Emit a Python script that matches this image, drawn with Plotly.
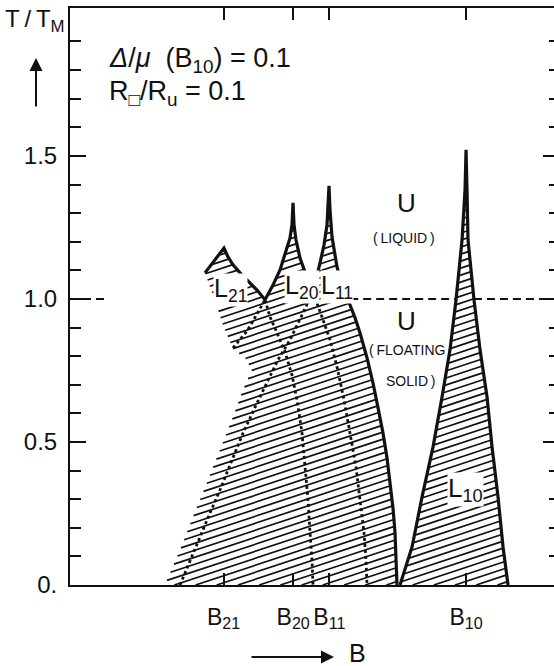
import numpy as np
import plotly.graph_objects as go

# ---------------- data ----------------
# field B (arbitrary units), reduced temperature T/T_M
L21_B = [27.95, 29.81, 31.88, 32.71, 33.75, 35.20, 36.65, 38.72, 40.37]
L21_T = [1.091, 1.133, 1.178, 1.147, 1.119, 1.091, 1.066, 1.031, 0.997]

L20_B = [40.37, 42.03, 43.48, 44.72, 45.55, 45.96, 46.17, 46.38, 46.79, 47.62, 48.86, 50.31]
L20_T = [0.997, 1.049, 1.101, 1.164, 1.213, 1.259, 1.336, 1.259, 1.206, 1.143, 1.084, 1.024]

L11_B = [50.31, 51.14, 51.76, 52.59, 53.21, 53.62, 53.83, 54.24, 55.28, 56.52, 57.56, 59.01,
         60.04, 61.49, 62.73, 63.77, 64.80, 65.63, 66.25, 66.87, 67.29, 67.49, 67.70]
L11_T = [1.024, 1.077, 1.126, 1.189, 1.259, 1.395, 1.311, 1.217, 1.112, 1.031, 0.997, 0.934,
         0.881, 0.794, 0.706, 0.619, 0.531, 0.444, 0.357, 0.269, 0.182, 0.094, 0.0]

L10_left_B = [68.32, 70.81, 72.88, 75.16, 77.02, 78.67, 79.92, 81.16, 81.78, 81.99]
L10_left_T = [0.0, 0.133, 0.308, 0.483, 0.657, 0.822, 0.997, 1.206, 1.381, 1.521]
L10_right_B = [81.99, 82.19, 82.40, 83.64, 84.89, 86.34, 87.37, 88.61, 89.65, 90.68]
L10_right_T = [1.521, 1.381, 1.206, 0.997, 0.822, 0.657, 0.483, 0.308, 0.133, 0.0]

# dotted phase boundaries
A_B = [22.77, 24.84, 26.92, 28.99, 31.06, 33.13, 35.82, 38.72, 40.99, 43.06, 45.55, 48.24, 50.31]
A_T = [0.0, 0.087, 0.168, 0.252, 0.332, 0.420, 0.531, 0.636, 0.717, 0.787, 0.857, 0.951, 1.024]
C_B = [40.37, 41.41, 42.86, 44.51, 45.96, 47.00, 48.03, 48.65, 49.28, 49.69, 50.10, 50.31]
C_T = [0.997, 0.937, 0.881, 0.815, 0.734, 0.647, 0.531, 0.413, 0.297, 0.182, 0.087, 0.0]
D_B = [50.31, 51.35, 52.17, 53.83, 55.28, 56.73, 57.97, 59.21, 60.04, 60.87, 61.28, 61.49]
D_T = [1.024, 0.979, 0.937, 0.857, 0.762, 0.647, 0.531, 0.413, 0.297, 0.182, 0.087, 0.0]
L21low_B = [33.75, 35.20, 36.65, 37.89, 39.13, 40.37]
L21low_T = [0.829, 0.857, 0.888, 0.923, 0.962, 0.997]

# left (unlined) edge of the hatched lattice region
edge_B = [19.67, 22.77, 25.47, 28.36, 31.06, 33.75, 35.82, 37.68, 36.23, 33.75, 31.68, 29.81, 27.95]
edge_T = [0.0, 0.122, 0.238, 0.357, 0.472, 0.587, 0.682, 0.752, 0.794, 0.825, 0.909, 1.003, 1.091]

# melting temperature line
melt_T = 1.0
melt_left_B = [0.0, 7.2]
melt_right_start_B = 58.0

# axes
B_ticks = [31.8, 46.2, 53.7, 82.0]
B_labels = ["B<sub>21</sub>", "B<sub>20</sub>", "B<sub>11</sub>", "B<sub>10</sub>"]
T_ticks = [0.0, 0.5, 1.0, 1.5]
T_labels = ["0.", "0.5", "1.0", "1.5"]
T_minor = [0.1, 0.2, 0.3, 0.4, 0.6, 0.7, 0.8, 0.9, 1.1, 1.2, 1.3, 1.4, 1.6, 1.7, 1.8, 1.9]

# ---------------- layout constants ----------------
W, H = 554, 666
ML, MR, MT, MB = 70, 0, 8, 81
X_RANGE = [0, 100.2]
Y_RANGE = [0, 2.017]
FONT = "Liberation Sans, Arial, sans-serif"
INK = "#111111"
TS = "\u2009"  # thin space


def hatch(polyB, polyT, slope=0.33, gap=7.0):
    """Parallel hatch lines clipped to a polygon (computed in screen pixels)."""
    sx = (W - ML - MR) / (X_RANGE[1] - X_RANGE[0])
    sy = (H - MT - MB) / (Y_RANGE[1] - Y_RANGE[0])
    v = np.asarray(polyB, float) * sx
    u = np.asarray(polyT, float) * sy
    v2, u2 = np.roll(v, -1), np.roll(u, -1)
    cv = u - slope * v
    xs, ys = [], []
    for c in np.arange(cv.min() + gap * 0.5, cv.max(), gap):
        f1 = u - slope * v - c
        f2 = u2 - slope * v2 - c
        cr = (f1 > 0) != (f2 > 0)
        if not cr.any():
            continue
        t = f1[cr] / (f1[cr] - f2[cr])
        vi = np.sort(v[cr] + t * (v2[cr] - v[cr]))
        for a, b in zip(vi[0::2], vi[1::2]):
            if b - a < 2:
                continue
            xs += [a / sx, b / sx, None]
            ys += [(slope * a + c) / sy, (slope * b + c) / sy, None]
    return xs, ys


fig = go.Figure()

# hatched regions
lattice_B = edge_B + L21_B[1:] + L20_B[1:] + L11_B[1:]
lattice_T = edge_T + L21_T[1:] + L20_T[1:] + L11_T[1:]
hx, hy = hatch(lattice_B, lattice_T)
hx2, hy2 = hatch(L10_left_B + L10_right_B[1:], L10_left_T + L10_right_T[1:])
fig.add_trace(go.Scatter(x=hx + hx2, y=hy + hy2, mode="lines", hoverinfo="skip",
                         line=dict(color=INK, width=1.7), showlegend=False))

# melting line T = T_M (dashed), interrupted by the L10 lobe
b_l10_left = float(np.interp(melt_T, L10_left_T, L10_left_B))
b_l10_right = float(np.interp(melt_T, L10_right_T[::-1], L10_right_B[::-1]))
mx = melt_left_B + [None, melt_right_start_B, b_l10_left, None, b_l10_right, X_RANGE[1]]
my = [melt_T, melt_T, None, melt_T, melt_T, None, melt_T, melt_T]
fig.add_trace(go.Scatter(x=mx, y=my, mode="lines", hoverinfo="skip", showlegend=False,
                         line=dict(color=INK, width=2, dash="8px,5px")))

# dotted boundaries
for bb, tt in [(A_B, A_T), (C_B, C_T), (D_B, D_T), (L21low_B, L21low_T)]:
    fig.add_trace(go.Scatter(x=bb, y=tt, mode="lines", hoverinfo="skip", showlegend=False,
                             line=dict(color=INK, width=2.8, dash="3px,3px")))

# solid boundaries
for bb, tt in [(L21_B, L21_T), (L20_B, L20_T), (L11_B, L11_T),
               (L10_left_B + L10_right_B[1:], L10_left_T + L10_right_T[1:])]:
    fig.add_trace(go.Scatter(x=bb, y=tt, mode="lines", hoverinfo="skip", showlegend=False,
                             line=dict(color=INK, width=3.2)))

# invisible trace for right-hand tick axis
fig.add_trace(go.Scatter(x=[None], y=[None], yaxis="y2", showlegend=False, hoverinfo="skip"))

ann = []


def txt(x, y, s, size, xanchor="center", yanchor="middle", bg=None, xref="x", yref="y"):
    d = dict(x=x, y=y, text=s, showarrow=False, xref=xref, yref=yref, xanchor=xanchor,
             yanchor=yanchor, font=dict(family=FONT, size=size, color=INK))
    if bg:
        d.update(bgcolor=bg, borderpad=0)
    ann.append(d)


txt(7.66, 1.836, "<i>Δ</i>/<i>μ</i>  (B<sub>10</sub>) = 0.1", 27, xanchor="left")
txt(7.66, 1.72, "R<sub>□</sub>/R<sub>u</sub> = 0.1", 27, xanchor="left")
txt(69.6, 1.336, "U", 26)
txt(69.2, 1.213, "(" + TS + "LIQUID" + TS + ")", 14)
txt(69.6, 0.923, "U", 26)
txt(61.4, 0.822, "(" + TS + "FLOATING", 14, xanchor="left")
txt(65.0, 0.713, "SOLID" + TS + ")", 14, xanchor="left")
txt(29.6, 1.03, "L<sub>21</sub>", 25, xanchor="left", bg="white")
txt(44.3, 1.04, "L<sub>20</sub>", 25, xanchor="left", bg="white")
txt(51.7, 1.04, "L<sub>11</sub>", 25, xanchor="left", bg="white")
txt(78.0, 0.335, "L<sub>10</sub>", 26, xanchor="left", bg="white")

# axis title T/T_M with upward arrow
px2x = lambda px: (px - ML) / (W - ML - MR)
py2y = lambda py: (H - MB - py) / (H - MT - MB)
txt(px2x(3), py2y(3), "T" + TS + "/" + TS + "T<sub>M</sub>", 24, xanchor="left", yanchor="top",
    xref="paper", yref="paper")
ann.append(dict(x=px2x(36), y=py2y(58), xref="paper", yref="paper", ax=0, ay=50, text="",
                showarrow=True, arrowhead=2, arrowsize=1.3, arrowwidth=2, arrowcolor=INK))
# x label B with arrow
ann.append(dict(x=px2x(334), y=py2y(657), xref="paper", yref="paper", ax=-84, ay=0, text="",
                showarrow=True, arrowhead=2, arrowsize=1.3, arrowwidth=2, arrowcolor=INK))
txt(px2x(357), py2y(653), "B", 25, xref="paper", yref="paper")

fig.update_layout(
    width=W, height=H, margin=dict(l=ML, r=MR, t=MT, b=MB),
    paper_bgcolor="white", plot_bgcolor="white", showlegend=False,
    annotations=ann,
    xaxis=dict(range=X_RANGE, showgrid=False, zeroline=False, showline=True, linewidth=2,
               linecolor=INK, mirror="ticks", ticks="inside", ticklen=12, tickwidth=2,
               tickcolor=INK, tickmode="array", tickvals=B_ticks, ticktext=B_labels,
               tickangle=0, tickfont=dict(family=FONT, size=23, color=INK), ticklabelstandoff=10),
    yaxis=dict(range=Y_RANGE, showgrid=False, zeroline=False, showline=True, linewidth=2,
               linecolor=INK, ticks="inside", ticklen=16, tickwidth=2, tickcolor=INK,
               tickmode="array", tickvals=T_ticks, ticktext=T_labels,
               tickfont=dict(family=FONT, size=24, color=INK), ticklabelstandoff=6,
               minor=dict(tickvals=T_minor, ticks="inside", ticklen=11, tickwidth=2,
                          tickcolor=INK, showgrid=False)),
    yaxis2=dict(range=Y_RANGE, overlaying="y", side="right", showgrid=False, zeroline=False,
                showline=False, ticks="inside", ticklen=11, tickwidth=2, tickcolor=INK,
                tickmode="array", tickvals=T_ticks[1:], showticklabels=False,
                minor=dict(tickvals=T_minor, ticks="inside", ticklen=5, tickwidth=2,
                           tickcolor=INK, showgrid=False)),
)

fig.write_html("out.html")
